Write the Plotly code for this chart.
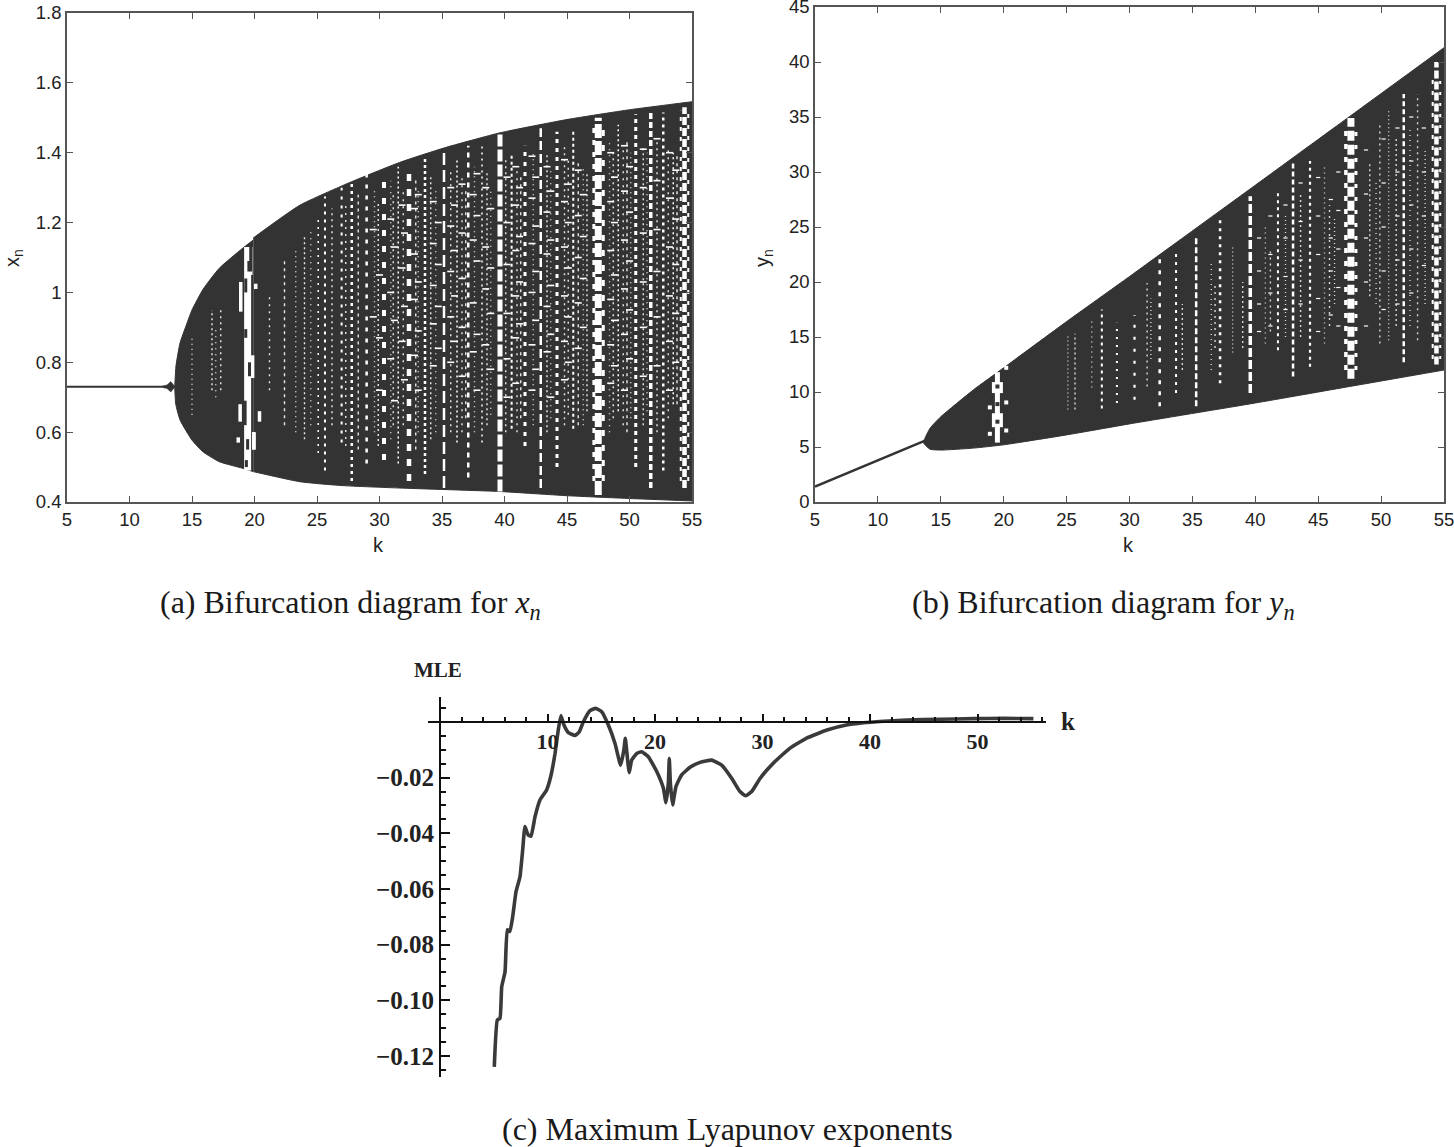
import plotly.graph_objects as go

W, H = 1454, 1147
DARK = "#333333"
AXC = "#555555"

# ---------- panel (a) data ----------
a_line_k = [5, 12.6]
a_line_v = [0.73, 0.73]
a_bump_k = [12.6, 13.0, 13.3, 13.65, 13.3, 13.0, 12.6]
a_bump_v = [0.732, 0.735, 0.745, 0.73, 0.715, 0.725, 0.728]
a_up1_k = [13.62, 13.72, 14.04, 14.58, 15, 15.9, 17.2, 19, 19.9]
a_up1_v = [0.73, 0.79, 0.855, 0.91, 0.95, 1.01, 1.07, 1.125, 1.15]
a_lo1_k = [13.62, 13.7, 14.04, 15, 15.9, 17.2, 19, 19.9]
a_lo1_v = [0.73, 0.68, 0.635, 0.577, 0.543, 0.515, 0.497, 0.487]
a_up2_k = [19.9, 23.64, 27.64, 31.6, 35.2, 39.64, 45, 50, 55]
a_up2_v = [1.156, 1.25, 1.315, 1.372, 1.414, 1.457, 1.495, 1.523, 1.546]
a_lo2_k = [19.9, 23.64, 27.0, 31.6, 39.64, 45, 50, 55]
a_lo2_v = [0.487, 0.458, 0.447, 0.44, 0.43, 0.418, 0.41, 0.403]

# white speck columns of (a): position, low value, high value
a_col_k = [25.1, 25.64, 26.97, 27.78, 28.97, 30.36, 31.5, 32.36, 33.64,
           35.16, 36.2, 37.1, 38.2, 39.64, 40.57, 41.64, 42.9, 44.2, 45.5,
           47.5, 47.15, 47.9, 49.1, 50.5, 51.7, 52.7, 53.5, 54.4, 54.1, 54.7]
a_col_lo = [0.54, 0.49, 0.57, 0.46, 0.51, 0.52, 0.51, 0.46, 0.48,
            0.44, 0.57, 0.47, 0.57, 0.43, 0.61, 0.56, 0.44, 0.5, 0.61,
            0.42, 0.46, 0.46, 0.66, 0.5, 0.44, 0.49, 0.68, 0.44, 0.46, 0.46]
a_col_hi = [1.22, 1.275, 1.30, 1.32, 1.34, 1.33, 1.36, 1.36, 1.385,
            1.41, 1.38, 1.42, 1.42, 1.455, 1.40, 1.42, 1.47, 1.46, 1.46,
            1.50, 1.48, 1.47, 1.48, 1.51, 1.515, 1.515, 1.4, 1.53, 1.52, 1.52]
# fainter, finer columns of (a)
a_fine_k = [15.0, 16.6, 16.9, 17.3, 21.2, 22.4, 23.3, 24.0, 24.5, 26.2, 27.3, 28.3, 29.6, 29.9, 30.9, 31.1, 31.9, 32.9, 33.1, 34.1, 34.5, 35.7,
            36.6, 36.9, 37.6, 38.6, 38.9, 40.1, 41.0, 41.3, 42.3, 43.4, 43.7, 44.8, 45.1, 45.9, 46.3, 46.6, 48.4, 48.7, 49.5, 49.8, 50.1,
            51.1, 51.4, 52.2, 53.1, 53.8]
a_fine_lo = [0.65, 0.72, 0.7, 0.72, 0.72, 0.62, 0.6, 0.58, 0.62, 0.62, 0.56, 0.55, 0.6, 0.56, 0.58, 0.62, 0.62, 0.55, 0.6, 0.58, 0.6, 0.6,
             0.6, 0.64, 0.6, 0.62, 0.65, 0.6, 0.6, 0.64, 0.62, 0.6, 0.64, 0.62, 0.65, 0.62, 0.62, 0.66, 0.6, 0.64, 0.62, 0.6, 0.64,
             0.62, 0.66, 0.6, 0.64, 0.68]
a_fine_hi = [0.87, 0.95, 0.9, 0.95, 1.0, 1.1, 1.12, 1.16, 1.18, 1.24, 1.26, 1.28, 1.3, 1.26, 1.32, 1.28, 1.3, 1.33, 1.3, 1.33, 1.3, 1.35,
             1.33, 1.3, 1.36, 1.35, 1.3, 1.38, 1.36, 1.34, 1.4, 1.4, 1.36, 1.42, 1.38, 1.38, 1.36, 1.34, 1.43, 1.4, 1.42, 1.44, 1.4,
             1.42, 1.4, 1.44, 1.42, 1.4]
# scattered short flecks of (a)
a_fleck_k = [29.5, 30.0, 30.9, 31.2, 31.8, 32.0, 32.8, 33.1, 34.3, 34.7, 35.7, 36.0, 36.6, 37.5, 37.8, 38.5, 38.9, 40.2, 40.9, 41.2,
             42.2, 42.5, 43.4, 43.7, 44.8, 45.1, 45.9, 46.3, 48.5, 48.8, 49.6, 50.0, 51.1, 52.2, 53.2, 53.7]
a_fleck_vs = [[1.18, 0.93], [1.05, 0.87, 0.72], [1.21, 1.0, 0.81], [1.13, 0.92, 0.69], [1.25, 1.07, 0.86], [1.17, 0.96, 0.75],
              [1.24, 1.11, 0.98, 0.82], [1.28, 1.03, 0.89, 0.72], [1.26, 1.14, 1.02, 0.91, 0.79], [1.2, 1.08, 0.96, 0.84],
              [1.3, 1.19, 1.06, 0.93, 0.8], [1.25, 1.12, 0.99, 0.86], [1.31, 1.17, 1.04, 0.9, 0.76], [1.28, 1.15, 0.97, 0.83],
              [1.34, 1.22, 1.09, 0.88, 0.72], [1.3, 1.13, 1.01, 0.85], [1.24, 1.07, 0.94, 0.78], [1.33, 1.2, 1.08, 0.94, 0.81, 0.7],
              [1.36, 1.25, 1.12, 0.99, 0.87, 0.74], [1.3, 1.16, 1.03, 0.91], [1.39, 1.27, 1.14, 1.0, 0.85, 0.72], [1.33, 1.19, 1.06, 0.92, 0.78],
              [1.36, 1.23, 1.11, 0.96, 0.83], [1.29, 1.15, 1.02, 0.88, 0.7], [1.38, 1.26, 1.13, 0.99, 0.86, 0.75], [1.31, 1.2, 1.07, 0.93, 0.8],
              [1.35, 1.22, 1.1, 0.97, 0.84], [1.28, 1.16, 1.04, 0.9], [1.4, 1.26, 1.12, 0.98, 0.85, 0.74], [1.33, 1.2, 1.05, 0.92, 0.79],
              [1.42, 1.29, 1.15, 1.01, 0.88, 0.72], [1.36, 1.23, 1.09, 0.95, 0.81], [1.41, 1.3, 1.17, 1.03, 0.9, 0.76],
              [1.44, 1.32, 1.18, 1.06, 0.93, 0.79], [1.4, 1.27, 1.13, 0.99, 0.86, 0.72], [1.35, 1.21, 1.08, 0.94, 0.8]]
a_band_k = [19.45, 18.9, 19.85, 19.95, 20.4, 18.85, 19.95, 18.7, 20.1, 19.7]
a_band_lo = [0.49, 0.945, 0.755, 0.55, 0.63, 0.63, 0.55, 0.57, 1.01, 1.05]
a_band_hi = [1.13, 1.03, 0.82, 0.6, 0.66, 0.68, 0.6, 0.585, 1.025, 1.13]
a_blob_k = [19.3, 19.55, 19.3, 19.6, 19.25, 19.45, 19.35, 19.7]
a_blob_lo = [1.0, 1.06, 0.87, 0.76, 0.62, 0.55, 0.5, 1.06]
a_blob_hi = [1.04, 1.09, 0.895, 0.8, 0.69, 0.58, 0.52, 1.13]

# ---------- panel (b) data ----------
b_line_k = [5, 13.7]
b_line_v = [1.4, 5.55]
b_up_k = [13.6, 13.7, 14.14, 15, 17.6, 20, 25, 30, 40, 47.5, 55]
b_up_v = [5.4, 5.7, 6.7, 7.75, 10.2, 12.2, 16.4, 20.5, 28.8, 35.05, 41.3]
b_lo_k = [13.6, 13.7, 14.14, 15, 17.6, 20, 25, 30, 40, 47.5, 55]
b_lo_v = [5.4, 5.25, 4.8, 4.72, 4.9, 5.2, 6.1, 7.1, 9.0, 10.5, 12.0]
b_col_k = [27.8, 29.0, 30.4, 32.4, 33.7, 35.3, 37.2, 39.6, 41.8, 43.0, 44.35,
           47.6, 47.2, 48.0, 51.8, 54.4, 54.1, 54.7]
b_col_lo = [8.5, 9.0, 9.3, 8.7, 9.9, 8.7, 10.8, 9.9, 13.8, 11.4, 12.3,
            11.2, 12.0, 12.0, 12.7, 12.5, 13.0, 13.0]
b_col_hi = [17.5, 16.3, 17.0, 22.2, 22.6, 24.1, 25.7, 27.8, 28.4, 30.9, 31.0,
            34.9, 34.0, 34.0, 37.1, 40.0, 39.0, 39.0]
b_fine_k = [25.1, 25.67, 27.0, 31.4, 31.7, 34.2, 36.5, 36.8, 38.2, 39.0, 40.8, 41.2, 42.4, 43.6, 45.5, 45.9, 46.3, 49.1, 49.6, 49.9, 50.6, 51.2, 52.3, 52.9, 53.5]
b_fine_lo = [8.4, 8.4, 10.4, 10.5, 13.0, 12.0, 12.0, 14.0, 13.6, 14.0, 14.4, 15.5, 15.0, 15.0, 14.4, 16.0, 18.0, 18.7, 18.0, 14.4, 14.7, 16.0, 16.0, 14.7, 18.0]
b_fine_hi = [15.3, 15.3, 16.5, 19.9, 18.5, 18.0, 21.7, 20.0, 23.3, 20.0, 25.0, 23.0, 26.0, 28.0, 30.4, 27.0, 26.0, 30.7, 29.0, 34.4, 35.6, 33.0, 34.0, 37.1, 32.0]
b_fleck_k = [40.3, 41.2, 42.4, 43.6, 45.0, 46.0, 46.6, 48.8, 50.2, 51.3, 52.4, 53.4]
b_fleck_vs = [[24, 21, 18, 15.5], [26, 22.5, 19, 16], [27, 24, 20.5, 17.5], [29, 25.5, 22, 18], [29.5, 26, 22.5, 18.5, 15.5], [27.5, 24, 21, 17],
              [30, 26.5, 23, 19.5, 16], [32, 28, 24, 20, 16], [33, 29, 25, 21, 17.5], [34, 30, 26, 22, 18], [35, 31, 27, 23, 19], [34, 30, 26, 21.5]]
b_band_k = [19.5, 19.5, 19.5]
b_band_lo = [5.4, 9.9, 6.8]
b_band_hi = [11.8, 10.9, 8.07]
b_dark_k = [19.5, 19.5, 19.5]
b_dark_v = [10.5, 8.9, 7.3]
b_dot_k = [20.2, 18.9, 20.2, 18.9, 20.2]
b_dot_v = [9.05, 8.6, 6.5, 6.2, 12.2]

# ---------- panel (c) data ----------
mle_k = [5.05, 5.33, 5.58, 5.74, 6.05, 6.26, 6.5, 6.76, 7.07, 7.44, 7.69, 7.9, 8.2, 8.47, 8.84, 9.3, 9.92, 10.3, 10.7, 11.0, 11.25, 11.53,
         11.94, 12.56, 12.96, 13.33, 13.95, 14.48, 15.04, 15.66, 16.28, 16.8, 17.1, 17.24, 17.36, 17.6, 17.83, 18.3, 18.76, 19.38, 20.16,
         20.78, 21.02, 21.24, 21.33, 21.43, 21.64, 21.95, 22.48, 23.26, 24.19, 25.27, 26.2, 27.13, 27.9, 28.43, 29.0, 29.77, 31.0, 32.56,
         34.1, 36.0, 37.8, 39.4, 40.9, 43.4, 46.5, 49.6, 52.4, 55.2]
mle_v = [-0.1239, -0.1071, -0.1065, -0.0951, -0.0897, -0.0747, -0.0753, -0.07, -0.061, -0.0556, -0.046, -0.0376, -0.0406, -0.041, -0.034,
         -0.028, -0.0244, -0.0196, -0.0113, -0.0029, 0.0023, -0.0011, -0.0038, -0.0048, -0.0035, 0.0, 0.0041, 0.0049, 0.0037, -0.0011,
         -0.0077, -0.0155, -0.0101, -0.0059, -0.0101, -0.0182, -0.0137, -0.0113, -0.0107, -0.0125, -0.0178, -0.0238, -0.029, -0.022,
         -0.0131, -0.022, -0.0298, -0.0232, -0.019, -0.0163, -0.0145, -0.0137, -0.0155, -0.0202, -0.025, -0.0265, -0.025, -0.0203,
         -0.0148, -0.0094, -0.0058, -0.0029, -0.0011, -0.0003, 0.0002, 0.0007, 0.001, 0.0012, 0.0013, 0.0012]

x_ticks_ab = [5, 10, 15, 20, 25, 30, 35, 40, 45, 50, 55]
y_ticks_a = [0.4, 0.6, 0.8, 1, 1.2, 1.4, 1.6, 1.8]
y_ticks_b = [0, 5, 10, 15, 20, 25, 30, 35, 40, 45]
c_x_major = [10, 20, 30, 40, 50]
c_x_minor = [2, 4, 6, 8, 12, 14, 16, 18, 22, 24, 26, 28, 32, 34, 36, 38, 42, 44, 46, 48, 52, 54, 56]
c_y_major = [-0.02, -0.04, -0.06, -0.08, -0.10, -0.12]
c_y_major_text = ["−0.02", "−0.04", "−0.06", "−0.08", "−0.10", "−0.12"]
c_y_minor = [0.005, -0.005, -0.01, -0.015, -0.025, -0.03, -0.035, -0.045, -0.05, -0.055, -0.065, -0.07, -0.075,
             -0.085, -0.09, -0.095, -0.105, -0.11, -0.115, -0.125]

# ---------- styles (width, dash on, dash off) per column ----------
a_col_style = [(1.5, 2, 5), (2, 3, 5), (2, 3, 6), (2.5, 3, 4), (2.5, 4, 7), (4, 6, 10), (1.5, 2, 3),
               (4.5, 7, 8), (2.5, 3, 3), (2.5, 12, 5), (1.5, 2, 3), (2.5, 5, 5), (1.5, 2, 4),
               (5, 12, 3), (2, 3, 3), (3, 4, 6), (2.5, 9, 4), (3, 4, 5), (2, 3, 3),
               (7, 14, 3), (3, 5, 7), (3, 6, 9), (1.5, 2, 3), (3, 4, 4), (3.5, 6, 3), (2.5, 3, 4), (1.5, 2, 3), (4.5, 8, 3), (2, 4, 6), (2, 4, 7)]
a_fine_dash = ["1px,4px", "2px,3px", "1px,5px", "2px,4px", "2px,5px", "3px,4px"]
b_col_style = [(2, 3, 4), (2, 2, 6), (2.2, 3, 9), (2.5, 4, 7), (2, 3, 5), (2.5, 6, 3), (2.5, 3, 5),
               (3.5, 9, 3), (2, 3, 4), (2.5, 5, 3), (2.2, 3, 4), (7, 10, 4), (3.5, 5, 8), (3, 4, 9), (2.5, 5, 3), (4.5, 8, 3), (2, 4, 7), (2, 3, 8)]
b_fine_dash = ["1px,3px", "2px,3px", "1px,4px", "2px,4px"]


def dom_x(a, b):
    return [a / W, b / W]


def dom_y(top, bottom):
    return [1 - bottom / H, 1 - top / H]


fig = go.Figure()


def poly(xa, ya, kx, vx, color=DARK):
    fig.add_trace(go.Scatter(x=kx, y=vx, xaxis=xa, yaxis=ya, mode="lines", fill="toself", fillcolor=color,
                             line=dict(color=color, width=0.5), hoverinfo="skip", showlegend=False))


def between(xa, ya, k_lo, v_lo, k_up, v_up):
    fig.add_trace(go.Scatter(x=k_lo, y=v_lo, xaxis=xa, yaxis=ya, mode="lines",
                             line=dict(color=DARK, width=1, shape="spline", smoothing=0.5), hoverinfo="skip", showlegend=False))
    fig.add_trace(go.Scatter(x=k_up, y=v_up, xaxis=xa, yaxis=ya, mode="lines", fill="tonexty", fillcolor=DARK,
                             line=dict(color=DARK, width=1, shape="spline", smoothing=0.5), hoverinfo="skip", showlegend=False))


def seg(xa, ya, k, lo, hi, width, color="white", dash=None):
    fig.add_trace(go.Scatter(x=[k, k], y=[lo, hi], xaxis=xa, yaxis=ya, mode="lines",
                             line=dict(color=color, width=width, dash=dash), hoverinfo="skip", showlegend=False))


def flecks(xa, ya, ks, vss, size, width):
    xs = [k for k, vs in zip(ks, vss) for _ in vs]
    ys = [v for vs in vss for v in vs]
    fig.add_trace(go.Scatter(x=xs, y=ys, xaxis=xa, yaxis=ya, mode="markers", hoverinfo="skip", showlegend=False,
                             marker=dict(symbol="line-ew", size=size, line=dict(color="white", width=width))))


# panel a
fig.add_trace(go.Scatter(x=a_line_k, y=a_line_v, xaxis="x", yaxis="y", mode="lines", line=dict(color=DARK, width=2), showlegend=False))
poly("x", "y", a_bump_k, a_bump_v)
between("x", "y", a_lo1_k, a_lo1_v, a_up1_k, a_up1_v)
between("x", "y", a_lo2_k, a_lo2_v, a_up2_k, a_up2_v)
for i, (k, lo, hi) in enumerate(zip(a_fine_k, a_fine_lo, a_fine_hi)):
    seg("x", "y", k, lo, hi, 1.4, color="#e8e8e8", dash=a_fine_dash[i % len(a_fine_dash)])
flecks("x", "y", a_fleck_k, a_fleck_vs, 5, 1.6)
for k, lo, hi, (w, on, off) in zip(a_col_k, a_col_lo, a_col_hi, a_col_style):
    seg("x", "y", k, lo, hi, w, dash=f"{on}px,{off}px")
for i, (k, lo, hi) in enumerate(zip(a_band_k, a_band_lo, a_band_hi)):
    seg("x", "y", k, lo, hi, 7 if i == 0 else 3.5)
for k, lo, hi in zip(a_blob_k, a_blob_lo, a_blob_hi):
    seg("x", "y", k, lo, hi, 3, color=DARK)

# panel b
fig.add_trace(go.Scatter(x=b_line_k, y=b_line_v, xaxis="x2", yaxis="y2", mode="lines", line=dict(color=DARK, width=2.5), showlegend=False))
between("x2", "y2", b_lo_k, b_lo_v, b_up_k, b_up_v)
for i, (k, lo, hi) in enumerate(zip(b_fine_k, b_fine_lo, b_fine_hi)):
    seg("x2", "y2", k, lo, hi, 1.4, color="#d8d8d8", dash=b_fine_dash[i % len(b_fine_dash)])
flecks("x2", "y2", b_fleck_k, b_fleck_vs, 3, 1.2)
for k, lo, hi, (w, on, off) in zip(b_col_k, b_col_lo, b_col_hi, b_col_style):
    seg("x2", "y2", k, lo, hi, w, dash=f"{on}px,{off}px")
for i, (k, lo, hi) in enumerate(zip(b_band_k, b_band_lo, b_band_hi)):
    seg("x2", "y2", k, lo, hi, 5 if i == 0 else 11)
fig.add_trace(go.Scatter(x=b_dark_k, y=b_dark_v, xaxis="x2", yaxis="y2", mode="markers",
                         marker=dict(color=DARK, size=4, symbol="square"), hoverinfo="skip", showlegend=False))
fig.add_trace(go.Scatter(x=b_dot_k, y=b_dot_v, xaxis="x2", yaxis="y2", mode="markers",
                         marker=dict(color="white", size=4, symbol="square"), hoverinfo="skip", showlegend=False))

# panel c
fig.add_trace(go.Scatter(x=mle_k, y=mle_v, xaxis="x3", yaxis="y3", mode="lines",
                         line=dict(color="#3a3a3a", width=3.6, shape="spline", smoothing=0.4), showlegend=False))

tick_font = dict(family="Liberation Sans, Arial, sans-serif", size=18.5, color="#222222")
title_font = dict(family="Liberation Sans, Arial, sans-serif", size=20, color="#222222")
c_font = dict(family="Liberation Serif, Times New Roman, serif", size=21, color="#222222")


def box_axis(**kw):
    return dict(showgrid=False, zeroline=False, showline=True, linecolor=AXC, linewidth=1.5, mirror="ticks", automargin=False,
                ticklabeloverflow="allow", ticks="inside", ticklen=6, tickwidth=1, tickcolor=AXC, tickfont=tick_font, **kw)


fig.update_layout(
    width=W, height=H, autosize=False, margin=dict(l=0, r=0, t=0, b=0),
    paper_bgcolor="white", plot_bgcolor="white", showlegend=False,
    xaxis=box_axis(domain=dom_x(67, 692), range=[5, 55], tickvals=x_ticks_ab, anchor="y"),
    yaxis=box_axis(domain=dom_y(13, 502), range=[0.4, 1.8], tickvals=y_ticks_a, anchor="x"),
    xaxis2=box_axis(domain=dom_x(815, 1444), range=[5, 55], tickvals=x_ticks_ab, anchor="y2"),
    yaxis2=box_axis(domain=dom_y(7, 502), range=[0, 45], tickvals=y_ticks_b, anchor="x2"),
    xaxis3=dict(domain=dom_x(428, 1046), range=[(428 - 440) / 10.75, (1046 - 440) / 10.75], anchor="free", automargin=False,
                position=1 - 722 / H, showgrid=False, zeroline=False, showline=True, linecolor="#111111", linewidth=2,
                ticks="inside", ticklen=7, tickwidth=2, tickcolor="#111111", tickvals=c_x_major,
                tickfont=dict(c_font, size=22, weight="bold"),
                minor=dict(tickvals=c_x_minor, ticks="inside", ticklen=4, tickwidth=2, tickcolor="#111111")),
    yaxis3=dict(domain=dom_y(697, 1077), range=[(722 - 1077) / 2783, (722 - 697) / 2783], anchor="free", automargin=False,
                position=440 / W, showgrid=False, zeroline=False, showline=True, linecolor="#111111", linewidth=2,
                ticks="inside", ticklen=9, tickwidth=2, tickcolor="#111111", tickvals=c_y_major, ticktext=c_y_major_text,
                tickfont=dict(c_font, size=25, weight="bold"),
                minor=dict(tickvals=c_y_minor, ticks="inside", ticklen=5, tickwidth=2, tickcolor="#111111")),
)

cap_font = dict(family="Liberation Serif, Times New Roman, serif", size=32, color="#1a1a1a")


def note(px, py, text, font, **kw):
    fig.add_annotation(x=px / W, y=1 - py / H, xref="paper", yref="paper", text=text, showarrow=False, font=font,
                       xanchor="center", yanchor="middle", **kw)


note(350, 604, "(a) Bifurcation diagram for <i>x<sub>n</sub></i>", cap_font)
note(1103, 604, "(b) Bifurcation diagram for <i>y<sub>n</sub></i>", cap_font)
note(727, 1129, "(c) Maximum Lyapunov exponents", cap_font)
note(438, 670, "<b>MLE</b>", dict(c_font, size=21))
note(1068, 721, "<b>k</b>", dict(c_font, size=25))
note(378, 545, "k", title_font)
note(1128, 545, "k", title_font)
note(13, 258, "x<sub>n</sub>", title_font, textangle=-90)
note(763, 258, "y<sub>n</sub>", title_font, textangle=-90)

fig.write_html("out.html", config={"displayModeBar": False}, post_script="document.body.style.margin='0';")
